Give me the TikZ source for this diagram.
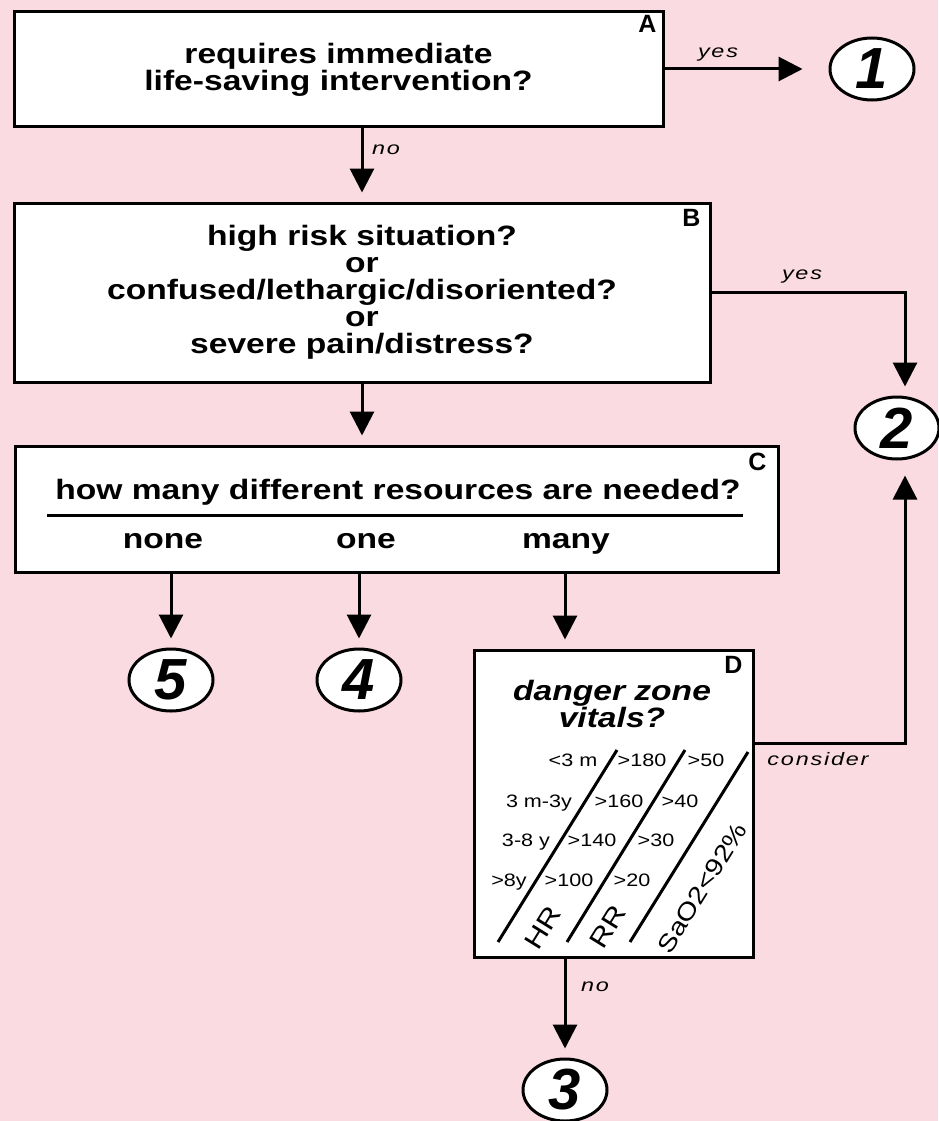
\documentclass[tikz,border=0pt]{standalone}
\usepackage{fontspec}
\setmainfont{Liberation Sans}[FakeStretch=1.2]
\newfontfamily\numfont{Liberation Sans}
\newfontfamily\smallfont{Liberation Sans}[FakeStretch=1.3,LetterSpace=10]
\usepackage{tikz}
\usetikzlibrary{arrows.meta}
\usetikzlibrary{shapes.geometric}
\definecolor{bgpink}{RGB}{249,219,225}

\begin{document}
\begin{tikzpicture}[x=1pt, y=-1pt,
	box/.style = {draw, line width = 3pt, fill = white, inner sep = 0pt},
	ask/.style = {font = \fontsize{28}{27}\selectfont\bfseries, align = center},
	tag/.style = {font = \numfont\fontsize{25}{25}\selectfont\bfseries, anchor = north east, inner sep = 0pt},
	endpt/.style = {draw, line width = 3pt, fill = white, ellipse, minimum width = 84pt, minimum height = 62pt, inner sep = 0pt, font = \numfont\fontsize{58}{58}\selectfont\bfseries\itshape},
	arr/.style = {line width = 3pt, shorten > = 9pt, -{Triangle[length = 24pt, width = 24pt]}},
	note/.style = {font = \smallfont\fontsize{18}{18}\selectfont\itshape},
	vital/.style = {font = \fontsize{18}{18}\selectfont, anchor = base},
	slant/.style = {line width = 3pt}]
	
	\fill[bgpink] (0,0) rectangle (938,1121);
	\useasboundingbox (0,0) rectangle (938,1121);
	
	% boxes
	\node[box, ask, minimum width = 649pt, minimum height = 115pt] (A) at (338.5,69.5) {requires immediate\\life-saving intervention?};
	\node[box, ask, minimum width = 696pt, minimum height = 179pt] (B) at (362,292.5) {high risk situation?\\or\\confused/lethargic/disoriented?\\or\\severe pain/distress?};
	\node[box, minimum width = 763pt, minimum height = 126pt] (C) at (396.5,509) {};
	\node[box, minimum width = 279pt, minimum height = 307pt] (D) at (613.5,803.5) {};
	
	\node[tag] (tagA) at ([xshift = -8pt, yshift = -5pt]A.north east) {A};
	\node[tag] (tagB) at ([xshift = -11pt, yshift = -8pt]B.north east) {B};
	\node[tag] (tagC) at ([xshift = -13pt, yshift = -8pt]C.north east) {C};
	\node[tag] (tagD) at ([xshift = -12pt, yshift = -8pt]D.north east) {D};
	
	% box C
	\node[ask, anchor = base] (cask) at (398,499) {how many different resources are needed?};
	\draw[line width = 3pt] (47,515) -- (743,515);
	\node[ask, anchor = base] (cnone) at (163,548) {none};
	\node[ask, anchor = base] (cone) at (366,548) {one};
	\node[ask, anchor = base] (cmany) at (566,548) {many};
	
	% box D
	\node[ask, font = \fontsize{28}{26}\selectfont\bfseries\itshape] (dask) at (612,704) {danger zone\\vitals?};
	\draw[slant] (498,942) -- (617,750);
	\draw[slant] (567,942) -- (685,750);
	\draw[slant] (630,942) -- (748,752);
	
	\node[vital] (age1) at (573,766) {<3 m};
	\node[vital] (age2) at (539,807) {3 m-3y};
	\node[vital] (age3) at (526,846) {3-8 y};
	\node[vital] (age4) at (509,886) {>8y};
	\node[vital] (hr1) at (642,766) {>180};
	\node[vital] (hr2) at (619,807) {>160};
	\node[vital] (hr3) at (592,846) {>140};
	\node[vital] (hr4) at (569,886) {>100};
	\node[vital] (rr1) at (706,766) {>50};
	\node[vital] (rr2) at (680,807) {>40};
	\node[vital] (rr3) at (656,846) {>30};
	\node[vital] (rr4) at (632,886) {>20};
	
	\node[rotate = 58.2, font = \fontsize{26}{26}\selectfont] (hr) at (543,928) {HR};
	\node[rotate = 58.2, font = \fontsize{26}{26}\selectfont] (rr) at (608,927) {RR};
	\node[rotate = 58.2, font = \fontsize{24}{24}\selectfont] (sao) at (702,888) {SaO2<92\%};
	
	% end points
	\node[endpt] (c1) at (872,69) {1};
	\node[endpt] (c2) at (897,428) {2};
	\node[endpt] (c3) at (565,1090) {3};
	\node[endpt] (c4) at (359,680) {4};
	\node[endpt] (c5) at (171,680) {5};
	
	% connectors
	\draw[arr, shorten > = 26pt] (A.east |- c1) -- (c1.west);
	\draw[arr] (A.south -| B.north) -- (B.north);
	\draw[arr] (B.south) -- (B.south |- C.north);
	
	\coordinate (bend1) at (905,292);
	\coordinate (bend2) at (905,743);
	\draw[arr] (B.east |- bend1) -- (bend1) -- (bend1 |- c2.north);
	\draw[arr, shorten > = 15pt] (D.east |- bend2) -- (bend2) -- (bend2 |- c2.south);
	
	\draw[arr] (c5.north |- C.south) -- (c5.north);
	\draw[arr] (c4.north |- C.south) -- (c4.north);
	\draw[arr] (c3.north |- C.south) -- (c3.north |- D.north);
	\draw[arr] (c3.north |- D.south) -- (c3.north);
	
	\node[note] (yesA) at (718,55) {yes};
	\node[note] (noA) at (386,150) {no};
	\node[note] (yesB) at (802,277) {yes};
	\node[note] (consider) at (818,759) {consider};
	\node[note] (noD) at (595,987) {no};
\end{tikzpicture}
\end{document}
